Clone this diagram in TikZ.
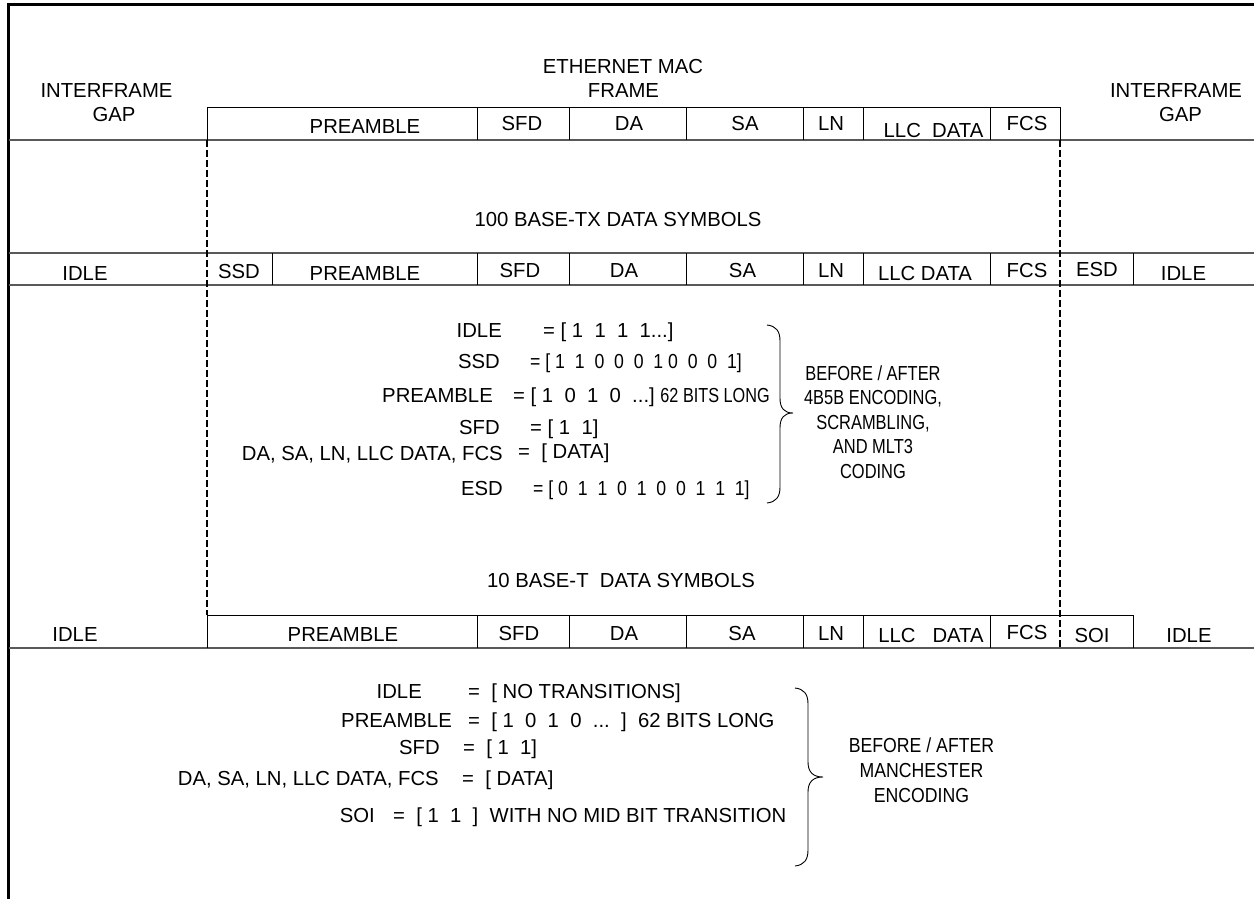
\documentclass[tikz,border=0pt]{standalone}
\usepackage{fontspec}
\setmainfont{Liberation Sans}
\newfontfamily\condA[FakeStretch=0.81]{Liberation Sans}
\newfontfamily\condB[FakeStretch=0.87]{Liberation Sans}
\newfontfamily\condC[FakeStretch=0.8]{Liberation Sans}
\begin{document}
\begin{tikzpicture}[x=1pt,y=-1pt,
  outerframe/.style={line width=2.6pt, black},
  rowline/.style={line width=1.6pt, black!65},
  cell/.style={line width=1pt, black},
  dashline/.style={line width=1.2pt, black, dash pattern=on 7pt off 3pt},
  bracepath/.style={line width=0.9pt, black},
  lab/.style={inner sep=0pt, anchor=base, font=\fontsize{20.3}{24.5}\selectfont},
  labr/.style={lab, anchor=base east},
  labl/.style={lab, anchor=base west},
  multiA/.style={inner sep=0pt, align=center, font=\condA\fontsize{20.3}{24.5}\selectfont},
  multiB/.style={inner sep=0pt, align=center, font=\condB\fontsize{20.3}{24.8}\selectfont}]
\useasboundingbox (0,0) rectangle (1254,899);

% outer frame
\draw[outerframe] (8.7,899) -- (8.7,4.7) -- (1254,4.7);

% long row lines
\draw[rowline] (9,140) -- (1254,140);
\draw[rowline] (9,253) -- (1254,253);
\draw[rowline] (9,285) -- (1254,285);
\draw[rowline] (9,648) -- (1254,648);

% row 1 (MAC frame)
\draw[cell] (207,140) -- (207,108) -- (1060,108) -- (1060,140);
\foreach \xx in {477,569,686,803,863,990}
  \draw[cell] (\xx,108) -- (\xx,140);

% dashed frame boundaries
\draw[dashline] (207,140) -- (207,615);
\draw[dashline] (1060,140) -- (1060,648);

% row 2 (100BASE-TX)
\foreach \xx in {272,477,569,686,803,863,990,1133}
  \draw[cell] (\xx,253) -- (\xx,285);

% row 3 (10BASE-T)
\draw[cell] (207,648) -- (207,615) -- (1133,615) -- (1133,648);
\foreach \xx in {477,569,686,803,863,990}
  \draw[cell] (\xx,615) -- (\xx,648);

% header texts
\node[lab] (ifgL1) at (106.5,97) {INTERFRAME};
\node[lab] (ifgL2) at (114,121.5) {GAP};
\node[lab] (mac1) at (623,73.5) {ETHERNET MAC};
\node[lab] (mac2) at (623.5,98) {FRAME};
\node[lab] (ifgR1) at (1176,97) {INTERFRAME};
\node[lab] (ifgR2) at (1180.5,121.5) {GAP};

% row 1 labels
\node[lab] (r1pre) at (365,133) {PREAMBLE};
\node[lab] (r1sfd) at (522,130) {SFD};
\node[lab] (r1da) at (629,130) {DA};
\node[lab] (r1sa) at (745,130) {SA};
\node[lab] (r1ln) at (831,130) {LN};
\node[lab] (r1llc) at (933.5,137) {LLC~~DATA};
\node[lab] (r1fcs) at (1027,131) {FCS};

\node[lab] (txtitle) at (618,226) {100 BASE-TX DATA SYMBOLS};

% row 2 labels
\node[lab] (r2idleL) at (85,280) {IDLE};
\node[lab] (r2ssd) at (239,278) {SSD};
\node[lab] (r2pre) at (365,280) {PREAMBLE};
\node[lab] (r2sfd) at (520,277) {SFD};
\node[lab] (r2da) at (624,277) {DA};
\node[lab] (r2sa) at (742.5,277) {SA};
\node[lab] (r2ln) at (831,277) {LN};
\node[lab] (r2llc) at (925,280) {LLC DATA};
\node[lab] (r2fcs) at (1027,277) {FCS};
\node[lab] (r2esd) at (1097,276) {ESD};
\node[lab] (r2idleR) at (1183.5,280) {IDLE};

% block 1 equations
\node[labr] (e1a) at (502,337) {IDLE};
\node[labl] (v1a) at (543,337) {= [ 1~~1~~1~~1...]};
\node[labr] (e1b) at (500,368) {SSD};
\node[labl] (v1b) at (530,368) {\condB = [ 1~~1~~0~~0~~0~~1 0~~0~~0~~1]};
\node[labr] (e1c) at (493,402) {PREAMBLE};
\node[labl] (v1c) at (513,402) {= [ 1~~0~~1~~0~~...]~{\condC 62 BITS LONG}};
\node[labr] (e1d) at (500,434) {SFD};
\node[labl] (v1d) at (530,434) {= [ 1~~1]};
\node[labr] (e1e) at (503,460) {DA, SA, LN, LLC DATA, FCS};
\node[labl] (v1e) at (518,458) {=~~[ DATA]};
\node[labr] (e1f) at (503,495) {ESD};
\node[labl] (v1f) at (533,495) {\condB = [ 0~~1~~1~~0~~1~~0~~0~~1~~1~~1]};

\draw[bracepath] (767,325) .. controls (776,326) and (780,331) .. (780,341) -- (780,398)
  .. controls (780,408) and (784,413) .. (793,413)
  .. controls (784,413) and (780,418) .. (780,428) -- (780,487)
  .. controls (780,497) and (776,502) .. (767,503);
\node[multiA] (note1) at (873,422) {BEFORE / AFTER\\4B5B ENCODING,\\SCRAMBLING,\\AND MLT3\\CODING};

\node[lab] (ttitle) at (621,587) {10 BASE-T~~DATA SYMBOLS};

% row 3 labels
\node[lab] (r3idleL) at (75,641) {IDLE};
\node[lab] (r3pre) at (343,641) {PREAMBLE};
\node[lab] (r3sfd) at (519,640) {SFD};
\node[lab] (r3da) at (624,640) {DA};
\node[lab] (r3sa) at (742,640) {SA};
\node[lab] (r3ln) at (831,640) {LN};
\node[lab] (r3llc) at (931,642) {LLC~~~DATA};
\node[lab] (r3fcs) at (1027,639) {FCS};
\node[lab] (r3soi) at (1092,642) {SOI};
\node[lab] (r3idleR) at (1189,642) {IDLE};

% block 2 equations
\node[labr] (e2a) at (422,698) {IDLE};
\node[labl] (v2a) at (468,698) {=~~[ NO TRANSITIONS]};
\node[labr] (e2b) at (452,727) {PREAMBLE};
\node[labl] (v2b) at (468,727) {=~~[ 1~~0~~1~~0~~...~~]~~62 BITS LONG};
\node[labr] (e2c) at (440,754) {SFD};
\node[labl] (v2c) at (463,754) {=~~[ 1~~1]};
\node[labr] (e2d) at (439,785) {DA, SA, LN, LLC DATA, FCS};
\node[labl] (v2d) at (462,785) {=~~[ DATA]};
\node[labr] (e2e) at (375,822) {SOI};
\node[labl] (v2e) at (393,822) {=~~[ 1~~1~~]~~WITH NO MID BIT TRANSITION};

\draw[bracepath] (795,688) .. controls (804,689) and (808,694) .. (808,704) -- (808,762)
  .. controls (808,772) and (813,777) .. (823,777)
  .. controls (813,777) and (808,782) .. (808,792) -- (808,850)
  .. controls (808,860) and (804,865) .. (795,866);
\node[multiB] (note2) at (921.5,770) {BEFORE / AFTER\\MANCHESTER\\ENCODING};

\end{tikzpicture}
\end{document}
